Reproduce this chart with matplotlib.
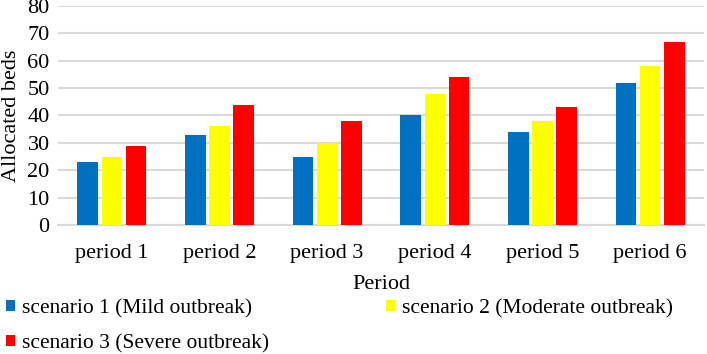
import matplotlib.pyplot as plt
import numpy as np

periods = ["period 1", "period 2", "period 3", "period 4", "period 5", "period 6"]
mild = [23, 33, 25, 40, 34, 52]
moderate = [25, 36, 30, 48, 38, 58]
severe = [29, 44, 38, 54, 43, 67]
series_names = ["scenario 1 (Mild outbreak)", "scenario 2 (Moderate outbreak)",
                "scenario 3 (Severe outbreak)"]
colors = ["#0070c0", "#ffff00", "#ff0000"]

plt.rcParams["font.family"] = ["Liberation Serif", "DejaVu Serif"]

fig = plt.figure(figsize=(7.07, 3.54), dpi=100)
ax = fig.add_axes([58 / 707, 1 - 225 / 354, 646 / 707, 219 / 354])

x = np.arange(len(periods))
width = 0.19
step = 0.225
bars = []
for i, (vals, name, c) in enumerate(zip([mild, moderate, severe], series_names, colors)):
    bars.append(ax.bar(x + (i - 1) * step, vals, width, color=c, label=name, zorder=3))

ax.set_xlim(-0.5, len(periods) - 0.5)
ax.set_ylim(0, 80)
ax.set_yticks(range(0, 81, 10))
ax.set_xticks(x)
ax.set_xticklabels(periods, fontsize=16)
ax.tick_params(axis="y", labelsize=16, length=0, pad=6)
ax.tick_params(axis="x", length=0, pad=14)
ax.grid(axis="y", color="#d9d9d9", linewidth=1.5, zorder=0)
for s in ["top", "right", "left"]:
    ax.spines[s].set_visible(False)
ax.spines["bottom"].set_color("#d9d9d9")
ax.spines["bottom"].set_linewidth(1.5)

ax.set_ylabel("Allocated beds", fontsize=16)
ax.yaxis.set_label_coords((21 - 58) / 646, 0.5)
ax.set_xlabel("Period", fontsize=16)
ax.xaxis.set_label_coords(0.5, (225 - 275) / 219)

# row-major legend order: s1, s2 on first row, s3 on second
order = [0, 2, 1]
fig.legend([bars[k] for k in order], [series_names[k] for k in order],
           loc="upper left", bbox_to_anchor=(6 / 707, 1 - 299 / 354), ncol=2,
           frameon=False, fontsize=15.5, handlelength=0.42, handleheight=0.42,
           handletextpad=0.33, columnspacing=5.4, labelspacing=0.72,
           borderaxespad=0, borderpad=0)

plt.savefig("out.png", dpi=100)
